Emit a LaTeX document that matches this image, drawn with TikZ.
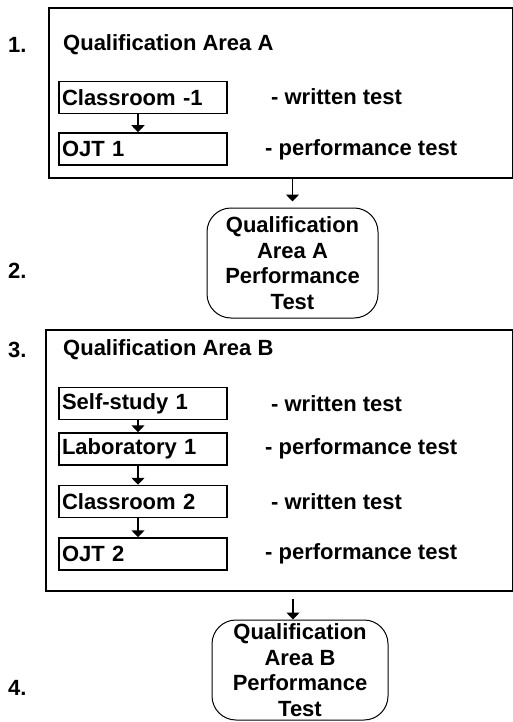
\documentclass[tikz,border=0pt]{standalone}
\usepackage{fontspec}
\setmainfont{Liberation Sans}
\usetikzlibrary{arrows.meta}
\begin{document}
\begin{tikzpicture}[x=1pt,y=-1pt,
    every node/.style={font=\bfseries\fontsize{22}{25.5}\selectfont},
    areabox/.style={draw,line width=2pt,anchor=north west,inner sep=0pt},
    stepbox/.style={draw,line width=1.5pt,minimum width=168pt,minimum height=32pt,text width=162pt,inner xsep=3pt,inner ysep=0pt,align=left},
    testbox/.style={draw,line width=1pt,rounded corners=24pt,align=center,inner sep=0pt},
    note/.style={anchor=west,inner sep=0pt},
    flow/.style={-{Triangle[width=13pt,length=7pt]},line width=1.5pt}]
\useasboundingbox (0,0) rectangle (513,722);
% stage 1
\node[areabox,minimum width=464pt,minimum height=170pt] (areaA) at (48,7) {};
\node[note] (num1) at (8,45) {1.};
\node[note] (titleA) at (63,45) {Qualification Area A};
\node[stepbox] (cls1) at (143,97.5) {Classroom -1};
\node[stepbox] (ojt1) at (143,149) {OJT 1};
\node[note] (noteA1) at (271,97) {- written test};
\node[note] (noteA2) at (265,150) {- performance test};
\draw[flow] ([xshift=-5pt]cls1.south) -- ([xshift=-5pt]ojt1.north);
% stage 2
\node[testbox,minimum width=171pt,minimum height=110pt] (testA) at (292.5,263) {Qualification\\Area A\\Performance\\Test};
\node[note] (num2) at (8,271) {2.};
\draw[flow,shorten >=6pt] (areaA.south -| testA.north) -- (testA.north);
% stage 3
\node[areabox,minimum width=467pt,minimum height=261pt] (areaB) at (45,329) {};
\node[note] (num3) at (8,350) {3.};
\node[note] (titleB) at (63,350) {Qualification Area B};
\foreach \name/\txt/\y/\nx/\note in {self/Self-study 1/403.5/271/written test,
    lab/Laboratory 1/449/265/performance test,
    cls2/Classroom 2/501.5/271/written test,
    ojt2/OJT 2/554/265/performance test}
{
  \node[stepbox] (\name) at (143,\y) {\txt};
  \node[note] (note-\name) at (\nx,\y) {- \note};
}
\foreach \a/\b in {self/lab,lab/cls2,cls2/ojt2}
  \draw[flow] ([xshift=-5pt]\a.south) -- ([xshift=-5pt]\b.north);
% stage 4
\node[testbox,minimum width=176pt,minimum height=100pt] (testB) at (300,670) {Qualification\\Area B\\Performance\\Test};
\node[note] (num4) at (8,688) {4.};
\draw[flow,shorten <=7pt] (areaB.south -| 293,0) -- (testB.north -| 293,0);
\end{tikzpicture}
\end{document}
